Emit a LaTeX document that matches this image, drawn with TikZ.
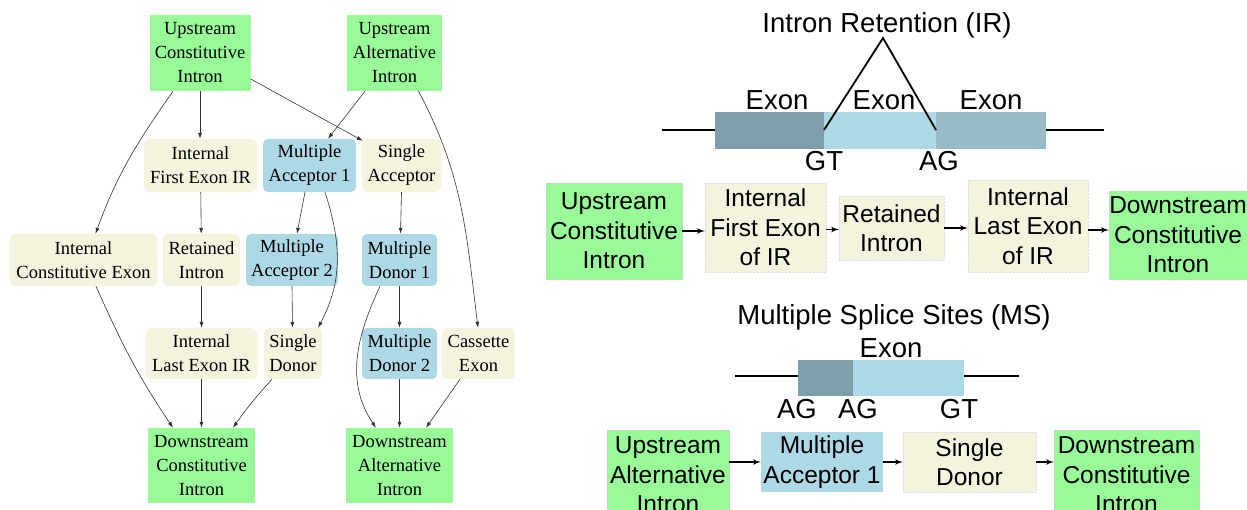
\documentclass[tikz,border=0pt]{standalone}
\usepackage{fontspec}
\setmainfont{Liberation Serif}
\newfontfamily\rsans{Liberation Sans}
\usetikzlibrary{arrows,arrows.meta}
\definecolor{pgreen}{HTML}{98FB98}
\definecolor{pbeige}{HTML}{F4F4DE}
\definecolor{pblue}{HTML}{ADD8E6}
\definecolor{exdark}{HTML}{7E9EA9}
\definecolor{exmid}{HTML}{97BBC8}
\tikzstyle{gbox} = [rectangle, fill=pgreen, align=center, inner sep=0pt,
    font=\fontsize{18.5}{24}\selectfont]
\tikzstyle{bbox} = [gbox, fill=pbeige, rounded corners=5pt]
\tikzstyle{lbox} = [gbox, fill=pblue, rounded corners=5pt]
\tikzstyle{rgbox} = [rectangle, fill=pgreen, draw=green!40!gray!40, align=center,
    inner sep=0pt, font=\rsans\fontsize{24.5}{29.5}\selectfont]
\tikzstyle{rbbox} = [rgbox, fill=pbeige, draw=gray!25, densely dotted]
\tikzstyle{rlbox} = [rgbox, fill=pblue, draw=none]
\tikzstyle{line} = [draw, black!80, line width=0.6pt, -{Latex[length=6pt,width=4pt]}]
\tikzstyle{fat} = [draw, line width=1.6pt, -latex']
\tikzstyle{gline} = [line width=1.8pt]
\tikzstyle{lab} = [anchor=base, inner sep=0pt, font=\rsans\fontsize{27.5}{30}\selectfont]

\begin{document}
\begin{tikzpicture}[x=1pt, y=1pt]
  \useasboundingbox (0,0) rectangle (1247,-510);
  % graph of exon and intron types
  \node [gbox, minimum width=101, minimum height=76] (uci) at (200,-53) {Upstream\\Constitutive\\Intron};
  \node [gbox, minimum width=95, minimum height=76] (uai) at (394.5,-53) {Upstream\\Alternative\\Intron};
  \node [bbox, minimum width=113, minimum height=53] (ifeir) at (200.5,-165.5) {Internal\\First Exon IR};
  \node [lbox, minimum width=93, minimum height=53] (maone) at (309.5,-165.5) {Multiple\\Acceptor 1};
  \node [bbox, minimum width=79, minimum height=53] (sacc) at (401.5,-165.5) {Single\\Acceptor};
  \node [bbox, minimum width=147, minimum height=52] (ice) at (83.5,-260) {Internal\\Constitutive Exon};
  \node [bbox, minimum width=77, minimum height=52] (ri) at (201.5,-260) {Retained\\Intron};
  \node [lbox, minimum width=92, minimum height=52] (matwo) at (292,-260) {Multiple\\Acceptor 2};
  \node [lbox, minimum width=75, minimum height=52] (mdone) at (399.5,-260) {Multiple\\Donor 1};
  \node [bbox, minimum width=111, minimum height=51] (ileir) at (201.5,-353.5) {Internal\\Last Exon IR};
  \node [bbox, minimum width=58, minimum height=51] (sd) at (293,-353.5) {Single\\Donor};
  \node [lbox, minimum width=75, minimum height=51] (mdtwo) at (399.5,-353.5) {Multiple\\Donor 2};
  \node [bbox, minimum width=73, minimum height=51] (cas) at (478.5,-353.5) {Cassette\\Exon};
  \node [gbox, minimum width=107, minimum height=75] (dci) at (201.5,-465.5) {Downstream\\Constitutive\\Intron};
  \node [gbox, minimum width=107, minimum height=75] (dai) at (399.5,-465.5) {Downstream\\Alternative\\Intron};

  \path [line] ([xshift=-27pt]uci.south) to[out=-125,in=70] ([xshift=12pt]ice.north);
  \path [line] (uci.south) -- (uci.south |- ifeir.north);
  \path [line] ([yshift=-26pt]uci.east) -- ([xshift=1pt,yshift=-2pt]sacc.north west);
  \path [line] ([xshift=-29.5pt]uai.south) -- ([xshift=18.5pt]maone.north);
  \path [line] ([xshift=24pt]uai.south) to[out=-62,in=97] ([xshift=-0.5pt]cas.north);
  \path [line] (ifeir) -- (ri);
  \path [line] (ri) -- (ileir);
  \path [line] ([xshift=-4.5pt]maone.south) -- ([xshift=5pt]matwo.north);
  \path [line] ([xshift=15.5pt]maone.south) to[out=-72,in=62] ([xshift=25pt]sd.north);
  \path [line] (sacc.south) -- ([xshift=1pt]mdone.north);
  \path [line] (mdone) -- (mdtwo);
  \path [line] ([xshift=-19.5pt]mdone.south) to[out=-115,in=124] ([xshift=-23.5pt]dai.north);
  \path [line] (mdtwo) -- (dai);
  \path [line] ([xshift=-18.5pt]cas.south) -- ([xshift=26.5pt]dai.north);
  \path [line] ([xshift=12.5pt]ice.south) to[out=-66,in=124] ([xshift=-28.5pt]dci.north);
  \path [line] (ileir) -- (dci);
  \path [line] (matwo.south) -- ([xshift=-0.5pt]sd.north);
  \path [line] ([xshift=-21pt]sd.south) to[out=-132,in=55] ([xshift=31.5pt]dci.north);

  % intron retention
  \node [lab] (irtitle) at (887,-33) {Intron Retention (IR)};
  \draw [gline] (662,-130) -- (715,-130) (1046,-130) -- (1104,-130);
  \fill [exdark] (715,-112) rectangle (824,-149);
  \fill [pblue] (824,-112) rectangle (936,-149);
  \fill [exmid] (936,-112) rectangle (1046,-149);
  \draw [gline] (824,-130) -- (883,-38) -- (936,-130);
  \node [lab] (exa) at (777,-110) {Exon};
  \node [lab] (exb) at (884,-110) {Exon};
  \node [lab] (exc) at (991,-110) {Exon};
  \node [lab] (gt) at (824,-171) {GT};
  \node [lab] (ag) at (939,-171) {AG};

  \node [rgbox, minimum width=136, minimum height=96] (uciR) at (614,-231) {Upstream\\Constitutive\\Intron};
  \node [rbbox, minimum width=121, minimum height=89] (ifeR) at (765.5,-227.5) {Internal\\First Exon\\of IR};
  \node [rbbox, minimum width=105, minimum height=64] (riR) at (891.5,-228) {Retained\\Intron};
  \node [rbbox, minimum width=120, minimum height=92] (ileR) at (1028,-226) {Internal\\Last Exon\\of IR};
  \node [rgbox, minimum width=138, minimum height=88] (dciR) at (1178,-235) {Downstream\\Constitutive\\Intron};
  \path [fat] (uciR.east) -- (uciR.east -| ifeR.west);
  \path [fat] ([yshift=-2pt]ifeR.east) -- ([yshift=-2pt]ifeR.east -| riR.west);
  \path [fat] (riR.east) -- (riR.east -| ileR.west);
  \path [fat] ([yshift=-4pt]ileR.east) -- ([yshift=-4pt]ileR.east -| dciR.west);

  % multiple splice sites
  \node [lab] (mstitle) at (894,-325) {Multiple Splice Sites (MS)};
  \draw [gline] (735,-376) -- (798,-376) (964,-376) -- (1019,-376);
  \fill [exdark] (798,-360) rectangle (852.5,-396);
  \fill [pblue] (852.5,-360) rectangle (964,-396);
  \node [lab] (exm) at (891,-358) {Exon};
  \node [lab] (agone) at (797,-418) {AG};
  \node [lab] (agtwo) at (858,-418) {AG};
  \node [lab] (gtm) at (959,-418) {GT};

  \node [rgbox, minimum width=121.5, minimum height=90] (uaiM) at (668,-475) {Upstream\\Alternative\\Intron};
  \node [rlbox, minimum width=122, minimum height=60] (maM) at (822,-462) {Multiple\\Acceptor 1};
  \node [rbbox, minimum width=133, minimum height=60] (sdM) at (969.5,-462) {Single\\Donor};
  \node [rgbox, minimum width=145, minimum height=90] (dciM) at (1126.5,-475) {Downstream\\Constitutive\\Intron};
  \path [fat] (maM.west -| uaiM.east) -- (maM.west);
  \path [fat] (maM.east) -- (sdM.west);
  \path [fat] (sdM.east) -- (sdM.east -| dciM.west);
\end{tikzpicture}
\end{document}
